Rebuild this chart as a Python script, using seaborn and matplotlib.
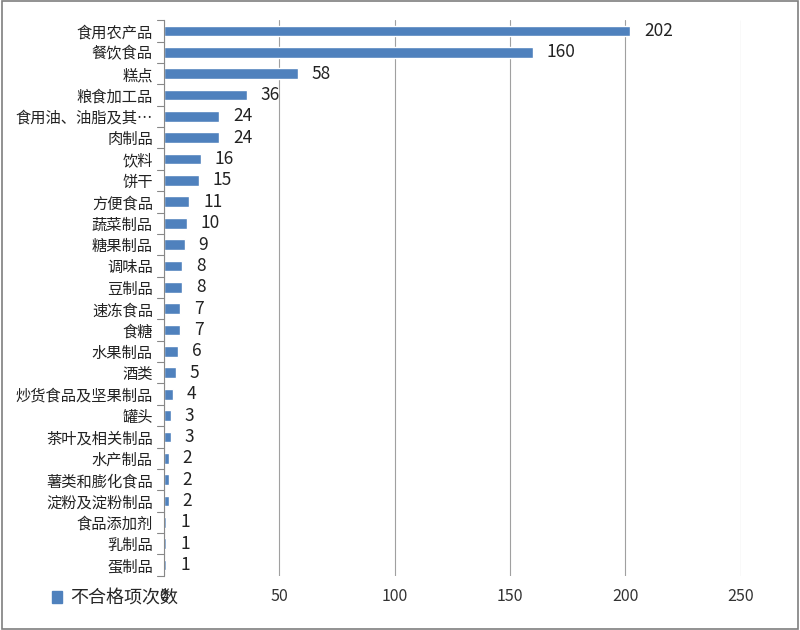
import matplotlib
matplotlib.use("Agg")
import matplotlib.pyplot as plt
import seaborn as sns
import pandas as pd
from matplotlib.patches import Rectangle

# Categories and counts (top to bottom)
categories = ["食用农产品", "餐饮食品", "糕点", "粮食加工品", "食用油、油脂及其…",
              "肉制品", "饮料", "饼干", "方便食品", "蔬菜制品", "糖果制品", "调味品",
              "豆制品", "速冻食品", "食糖", "水果制品", "酒类", "炒货食品及坚果制品",
              "罐头", "茶叶及相关制品", "水产制品", "薯类和膨化食品", "淀粉及淀粉制品",
              "食品添加剂", "乳制品", "蛋制品"]
counts = [202, 160, 58, 36, 24, 24, 16, 15, 11, 10, 9, 8, 8, 7, 7, 6, 5, 4,
          3, 3, 2, 2, 2, 1, 1, 1]
series_name = "不合格项次数"
x_ticks = [0, 50, 100, 150, 200, 250]

df = pd.DataFrame({"category": categories, "count": counts})

sns.set_style("white")
plt.rcParams['font.family'] = ['Noto Sans CJK SC', 'DejaVu Sans']

bar_color = "#4F81BD"
n = len(categories)

fig = plt.figure(figsize=(8, 6.3), dpi=100)
ax = fig.add_axes([0.205, 0.086, 0.721, 0.882])

sns.barplot(data=df, x="count", y="category", orient="h", color=bar_color,
            width=0.5, saturation=1, ax=ax)

# value labels
for i, v in enumerate(counts):
    ax.text(v + 6, i, str(v), va="center", ha="left", fontsize=12.5, color="#222222")

# category tick marks between bars
for b in range(n + 1):
    ax.plot([-3, 0], [b - 0.5, b - 0.5], color="#888888", linewidth=0.8,
            clip_on=False)

ax.set_xlim(0, 250)
ax.set_ylim(n - 0.5, -0.5)
ax.set_xticks(x_ticks)
ax.set_xticklabels([str(t) for t in x_ticks], fontsize=11.5, color="#333333")
ax.tick_params(axis="y", labelsize=11, colors="#222222", length=0, pad=8)
ax.tick_params(axis="x", length=0, pad=9)
ax.set_xlabel("")
ax.set_ylabel("")

# gridlines
ax.xaxis.grid(True, color="#a0a0a0", linewidth=0.8)
ax.set_axisbelow(True)
for s in ["top", "right", "bottom"]:
    ax.spines[s].set_visible(False)
ax.spines["left"].set_color("#888888")
ax.spines["left"].set_linewidth(0.8)

# legend
handle = Rectangle((0, 0), 1, 1, color=bar_color)
fig.legend([handle], [series_name], loc="lower left", bbox_to_anchor=(0.045, 0.01),
           frameon=False, fontsize=13, handlelength=0.55, handleheight=0.6,
           handletextpad=0.45)

# outer border
fig.patches.append(Rectangle((0.002, 0.002), 0.996, 0.996, transform=fig.transFigure,
                             fill=False, edgecolor="#7f7f7f", linewidth=1.2))

fig.savefig("out.png", dpi=100)
